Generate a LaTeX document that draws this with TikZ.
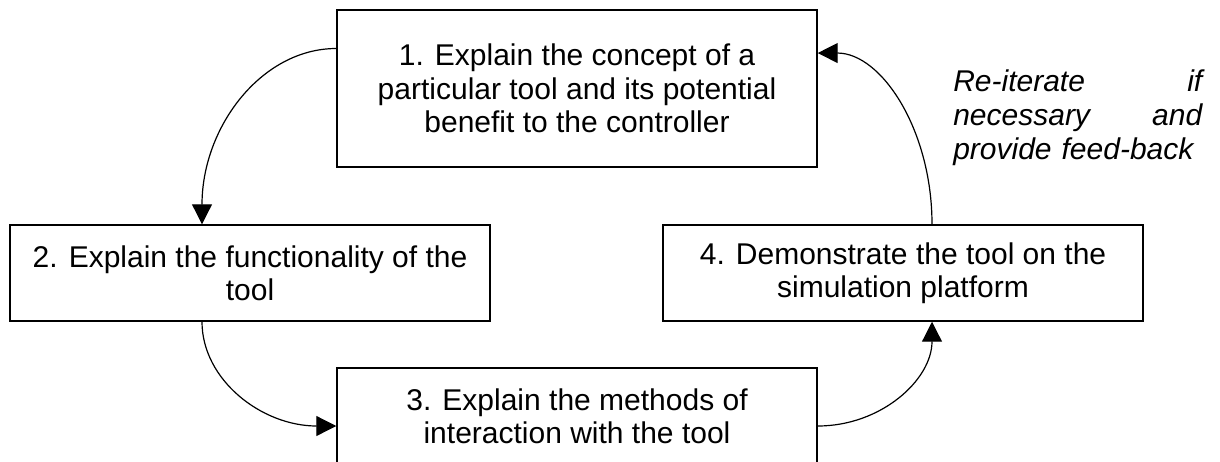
\documentclass[tikz,border=0pt]{standalone}
\usepackage{fontspec}
\setmainfont{Liberation Sans}
\usetikzlibrary{arrows.meta}
\newcommand{\spreadgap}{\hspace{0pt plus 1filll}}

\begin{document}
\begin{tikzpicture}[x=0.75pt,y=0.75pt,
        stage/.style={draw=black,line width=1.1pt,minimum width=360pt,minimum height=72pt,
                      inner sep=0pt,align=center,font=\fontsize{22.5}{25}\selectfont},
        flow/.style={black,line width=0.9pt,-{Triangle[length=15pt,width=15pt]}}]
                \useasboundingbox (0,0) rectangle (1220,-461);
                \node [stage,minimum height=117.75pt] (stage1) at (577,-88.5)
                        {1. Explain the concept of a\\particular tool and its potential\\benefit to the controller};
                \node [stage] (stage2) at (250,-273) {2. Explain the functionality of the\\tool};
                \node [stage] (stage3) at (577,-416) {3. Explain the methods of\\interaction with the tool};
                \node [stage] (stage4) at (903,-273) {4. Demonstrate the tool on the\\simulation platform};
                \node [anchor=north west,inner sep=0pt,text width=186.75pt,align=left,
                       font=\itshape\fontsize{22.5}{25.5}\selectfont] (note) at (953,-69)
                        {Re-iterate\spreadgap if\\necessary\spreadgap and\\provide feed-back};
                % the loop
                \draw [flow] ([yshift=30pt]stage1.west) to [out=180,in=90,out distance=56pt,in distance=73pt] ([xshift=-36pt]stage2.north);
                \draw [flow] ([xshift=-36pt]stage2.south) to [out=-90,in=180,out distance=43.5pt,in distance=56pt] ([yshift=-7.5pt]stage3.west);
                \draw [flow] ([yshift=-7.5pt]stage3.east) to [out=0,in=-90,out distance=47.6pt,in distance=43.5pt] ([xshift=21.75pt]stage4.south);
                \draw [flow] ([xshift=21.75pt]stage4.north) to [out=90,in=0,out distance=71pt,in distance=47.6pt] ([yshift=26.6pt]stage1.east);
\end{tikzpicture}
\end{document}
